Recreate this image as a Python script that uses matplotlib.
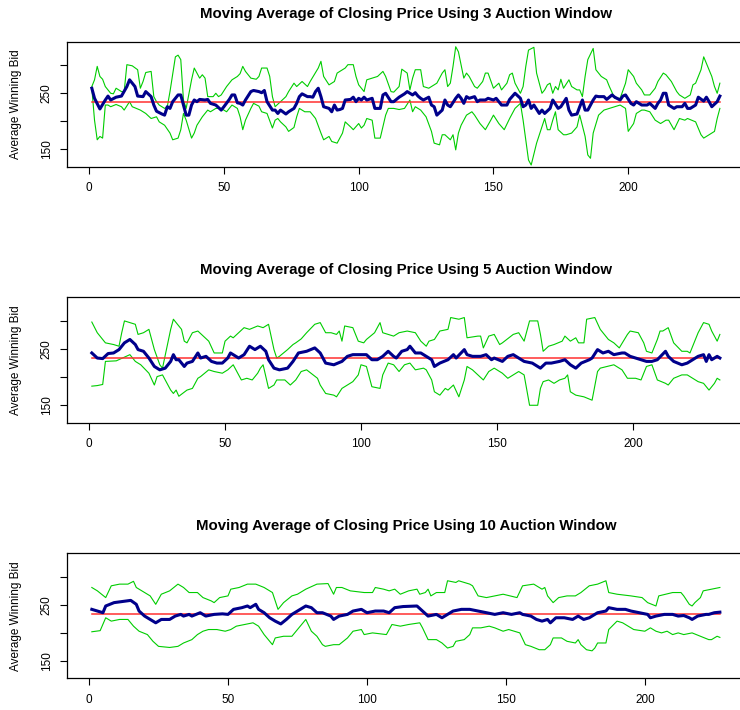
import numpy as np
import matplotlib
matplotlib.use("Agg")
import matplotlib.pyplot as plt

plt.rcParams["font.family"] = ["Liberation Sans", "DejaVu Sans"]

windows = [3, 5, 10]
n_points = [234, 232, 227]
overall_mean = 234.5

# 3 auction window: moving average and its upper / lower bands
ma3_x = [1, 2, 4, 6, 7, 8, 10, 12, 14, 15, 17, 18, 20, 21, 23, 24, 25, 27, 28, 29, 30, 31, 33, 34, 35, 36, 37, 38, 39, 40, 41, 43, 44, 45, 47, 49, 50, 52, 53, 54, 55, 56, 57, 58, 60, 61, 63, 64, 65, 66, 68, 69, 70, 71, 73, 74, 76, 77, 78, 79, 81, 82, 83, 84, 85, 86, 87, 89, 90, 91, 92, 93, 94, 95, 97, 98, 99, 100, 101, 102, 103, 105, 106, 108, 109, 110, 112, 113, 115, 117, 118, 120, 121, 122, 123, 124, 126, 127, 128, 129, 131, 132, 133, 134, 136, 137, 138, 139, 140, 141, 143, 144, 145, 147, 148, 150, 151, 152, 153, 155, 156, 158, 160, 161, 162, 163, 164, 165, 167, 168, 169, 171, 172, 174, 175, 177, 178, 179, 181, 182, 183, 184, 185, 187, 188, 189, 191, 192, 194, 195, 197, 198, 199, 201, 202, 203, 205, 207, 208, 210, 211, 212, 213, 214, 215, 217, 218, 220, 221, 222, 223, 225, 226, 228, 229, 230, 231, 233, 234]
ma3_y = [259, 241, 222, 238, 245, 238, 243, 245, 262, 274, 262, 245, 244, 253, 244, 229, 218, 213, 211, 226, 223, 235, 247, 247, 229, 211, 211, 229, 238, 235, 239, 238, 239, 232, 229, 220, 226, 239, 247, 247, 233, 232, 229, 238, 253, 255, 253, 251, 255, 235, 220, 220, 214, 220, 213, 217, 223, 232, 244, 249, 244, 244, 243, 253, 259, 244, 226, 223, 217, 229, 220, 221, 223, 238, 239, 243, 235, 241, 238, 243, 238, 241, 223, 223, 247, 250, 235, 235, 243, 249, 253, 247, 251, 245, 241, 238, 243, 229, 226, 211, 220, 238, 229, 226, 241, 247, 241, 232, 244, 241, 244, 235, 238, 238, 241, 238, 241, 235, 229, 229, 239, 250, 241, 226, 229, 238, 223, 229, 214, 220, 214, 223, 238, 223, 226, 241, 220, 211, 213, 226, 238, 220, 220, 238, 245, 244, 244, 239, 247, 243, 238, 245, 247, 232, 229, 235, 229, 229, 232, 223, 232, 238, 250, 250, 229, 223, 226, 226, 232, 223, 223, 229, 243, 236, 243, 235, 226, 235, 245]
up3_x = [1, 2, 3, 4, 5, 6, 8, 9, 10, 12, 13, 14, 16, 18, 19, 20, 21, 23, 24, 25, 26, 28, 29, 30, 32, 33, 34, 35, 36, 38, 39, 40, 41, 42, 43, 44, 46, 47, 48, 49, 51, 53, 55, 56, 57, 58, 60, 62, 63, 64, 66, 67, 68, 69, 71, 73, 74, 76, 77, 79, 81, 82, 85, 86, 87, 89, 90, 91, 92, 94, 95, 96, 98, 99, 100, 102, 103, 105, 107, 109, 110, 112, 113, 115, 116, 118, 119, 120, 121, 123, 124, 126, 127, 129, 131, 132, 133, 134, 135, 136, 137, 139, 140, 141, 143, 144, 146, 147, 148, 150, 152, 153, 155, 156, 157, 158, 160, 161, 162, 163, 165, 166, 168, 169, 170, 171, 172, 173, 174, 175, 176, 178, 179, 181, 182, 183, 184, 185, 187, 188, 190, 192, 193, 195, 197, 199, 200, 202, 203, 205, 206, 208, 210, 211, 213, 214, 216, 218, 219, 221, 223, 224, 225, 227, 228, 230, 231, 232, 233, 234]
up3_y = [262, 274, 298, 280, 275, 262, 250, 249, 259, 253, 253, 301, 299, 292, 259, 271, 287, 289, 244, 235, 229, 223, 226, 253, 315, 318, 310, 238, 223, 274, 295, 286, 277, 283, 277, 244, 244, 250, 244, 247, 262, 274, 280, 285, 298, 289, 277, 275, 280, 295, 295, 280, 244, 226, 235, 244, 253, 268, 262, 271, 262, 271, 295, 307, 280, 265, 268, 271, 286, 292, 295, 301, 301, 280, 265, 253, 274, 277, 280, 289, 280, 253, 252, 262, 293, 286, 256, 277, 292, 292, 262, 259, 262, 268, 286, 292, 262, 268, 298, 333, 324, 277, 286, 280, 262, 259, 271, 286, 286, 259, 268, 256, 268, 283, 286, 268, 250, 262, 298, 327, 332, 286, 250, 256, 265, 268, 250, 262, 256, 275, 259, 274, 262, 256, 256, 244, 280, 310, 330, 292, 280, 274, 262, 241, 241, 268, 292, 280, 268, 256, 247, 247, 259, 271, 286, 283, 271, 253, 247, 241, 247, 265, 268, 292, 315, 292, 280, 262, 250, 268]
lo3_x = [1, 2, 3, 4, 5, 6, 7, 8, 10, 12, 13, 15, 16, 19, 21, 23, 25, 26, 28, 30, 31, 33, 34, 35, 36, 38, 39, 40, 42, 44, 45, 47, 49, 51, 53, 55, 56, 57, 58, 60, 61, 63, 64, 66, 68, 69, 70, 71, 73, 74, 76, 77, 78, 80, 82, 84, 86, 87, 89, 90, 92, 93, 94, 95, 97, 98, 100, 101, 102, 103, 105, 106, 108, 110, 111, 113, 115, 117, 119, 120, 121, 123, 125, 127, 128, 130, 131, 132, 134, 135, 136, 137, 138, 140, 142, 143, 145, 147, 149, 150, 152, 154, 156, 158, 160, 161, 162, 163, 164, 166, 168, 169, 170, 171, 172, 173, 174, 176, 177, 179, 181, 182, 184, 185, 186, 187, 189, 191, 193, 195, 197, 199, 200, 202, 203, 205, 206, 208, 210, 212, 214, 215, 217, 219, 221, 222, 225, 227, 228, 230, 232, 233, 234]
lo3_y = [259, 202, 167, 173, 170, 229, 229, 226, 230, 226, 220, 235, 226, 220, 214, 205, 208, 199, 193, 179, 167, 170, 185, 214, 202, 170, 179, 193, 208, 220, 217, 223, 223, 217, 229, 223, 208, 185, 202, 223, 232, 227, 217, 214, 188, 202, 205, 199, 190, 182, 189, 208, 223, 217, 217, 205, 179, 167, 173, 164, 161, 170, 179, 199, 190, 185, 196, 188, 193, 205, 202, 170, 170, 211, 223, 223, 221, 223, 238, 217, 226, 220, 208, 182, 161, 158, 176, 176, 167, 176, 149, 179, 193, 211, 217, 211, 196, 185, 202, 211, 196, 185, 205, 223, 232, 202, 167, 131, 122, 161, 190, 205, 185, 185, 202, 217, 185, 176, 176, 179, 190, 211, 173, 140, 134, 179, 211, 220, 223, 226, 229, 223, 182, 196, 214, 220, 220, 217, 202, 196, 202, 202, 185, 205, 202, 205, 199, 176, 170, 176, 182, 205, 223]

# 5 auction window
ma5_x = [1, 3, 5, 7, 9, 11, 13, 15, 17, 18, 20, 22, 24, 26, 28, 30, 31, 32, 33, 35, 36, 38, 40, 41, 43, 45, 47, 49, 51, 52, 55, 57, 59, 61, 63, 65, 66, 68, 70, 73, 75, 77, 80, 83, 85, 87, 90, 93, 95, 97, 99, 102, 104, 106, 108, 110, 112, 113, 115, 117, 118, 120, 122, 124, 126, 127, 129, 132, 134, 135, 138, 139, 141, 144, 146, 148, 149, 152, 154, 156, 159, 160, 163, 166, 168, 170, 173, 175, 177, 179, 181, 184, 185, 187, 189, 191, 193, 196, 197, 199, 201, 203, 205, 207, 209, 212, 213, 215, 218, 220, 223, 224, 226, 227, 228, 229, 231, 232]
ma5_y = [243, 234, 233, 242, 243, 249, 261, 267, 258, 249, 246, 234, 219, 213, 216, 228, 240, 231, 231, 219, 225, 228, 243, 234, 237, 228, 225, 225, 234, 243, 234, 240, 255, 249, 255, 246, 231, 216, 213, 216, 228, 243, 246, 252, 243, 225, 222, 228, 237, 240, 240, 240, 231, 231, 237, 246, 237, 234, 246, 249, 255, 243, 243, 237, 231, 219, 225, 231, 240, 234, 249, 240, 237, 237, 240, 231, 234, 228, 237, 240, 231, 228, 225, 216, 225, 225, 228, 231, 222, 216, 225, 231, 234, 249, 243, 246, 240, 243, 243, 237, 234, 231, 228, 228, 231, 246, 237, 228, 222, 225, 234, 237, 240, 228, 240, 231, 237, 234]
up5_x = [1, 3, 6, 9, 11, 12, 13, 15, 17, 18, 20, 22, 24, 26, 27, 30, 31, 33, 34, 35, 36, 38, 40, 42, 44, 46, 49, 50, 52, 53, 55, 57, 59, 62, 64, 66, 68, 69, 70, 73, 75, 76, 78, 80, 83, 85, 87, 89, 91, 92, 93, 94, 97, 99, 101, 102, 105, 107, 108, 110, 112, 114, 117, 120, 122, 124, 125, 127, 129, 132, 133, 136, 138, 139, 143, 144, 145, 147, 149, 151, 152, 156, 158, 160, 162, 165, 166, 167, 169, 171, 174, 175, 177, 179, 180, 182, 183, 186, 188, 190, 191, 193, 195, 198, 199, 202, 204, 205, 207, 209, 210, 211, 213, 215, 218, 220, 221, 222, 224, 226, 228, 229, 231, 232]
up5_y = [298, 279, 261, 258, 255, 279, 300, 297, 294, 276, 279, 285, 249, 222, 216, 285, 303, 291, 285, 264, 261, 279, 282, 273, 264, 243, 243, 264, 273, 270, 279, 288, 285, 291, 288, 294, 249, 234, 237, 249, 258, 261, 268, 279, 294, 297, 279, 279, 276, 282, 264, 291, 288, 264, 261, 267, 279, 297, 279, 276, 273, 279, 282, 279, 264, 255, 264, 267, 282, 285, 306, 303, 306, 270, 273, 273, 252, 273, 276, 258, 261, 276, 279, 264, 300, 300, 276, 246, 255, 258, 264, 273, 264, 270, 261, 261, 303, 306, 285, 273, 267, 261, 252, 276, 282, 279, 261, 246, 243, 267, 282, 282, 288, 261, 246, 246, 243, 255, 279, 297, 294, 282, 264, 276]
lo5_x = [1, 3, 5, 6, 10, 15, 17, 19, 22, 24, 25, 27, 30, 31, 32, 33, 36, 38, 40, 41, 44, 46, 49, 51, 53, 54, 56, 58, 60, 62, 63, 64, 66, 68, 69, 72, 74, 76, 78, 80, 84, 85, 87, 90, 91, 93, 97, 99, 100, 102, 104, 107, 108, 110, 112, 114, 116, 118, 120, 123, 124, 126, 127, 129, 131, 132, 134, 136, 138, 139, 141, 143, 145, 147, 149, 152, 154, 156, 158, 160, 161, 162, 165, 166, 167, 169, 171, 173, 175, 176, 177, 179, 182, 185, 187, 188, 193, 196, 198, 201, 203, 205, 207, 209, 212, 213, 215, 218, 220, 222, 224, 226, 228, 230, 231, 232]
lo5_y = [184, 185, 187, 228, 229, 240, 228, 222, 207, 186, 201, 204, 177, 171, 177, 166, 177, 180, 198, 201, 213, 210, 207, 213, 222, 213, 195, 198, 195, 207, 216, 222, 180, 186, 195, 195, 186, 195, 210, 213, 198, 186, 171, 168, 165, 180, 192, 204, 222, 219, 183, 180, 204, 225, 222, 210, 222, 225, 213, 216, 213, 195, 174, 168, 180, 177, 186, 165, 195, 219, 213, 204, 195, 210, 216, 207, 198, 204, 210, 204, 177, 150, 150, 180, 192, 195, 189, 195, 198, 204, 174, 168, 165, 159, 210, 216, 222, 213, 198, 198, 195, 219, 222, 195, 189, 186, 198, 204, 204, 198, 192, 189, 177, 189, 198, 195]

# 10 auction window
ma10_x = [1, 3, 5, 6, 9, 12, 15, 17, 18, 20, 22, 24, 26, 29, 31, 33, 34, 36, 37, 40, 42, 45, 48, 50, 52, 55, 57, 58, 60, 61, 63, 65, 67, 69, 71, 73, 76, 78, 80, 82, 84, 87, 88, 90, 93, 95, 98, 100, 103, 106, 108, 110, 113, 118, 120, 122, 125, 127, 129, 131, 134, 137, 140, 143, 146, 149, 152, 155, 156, 159, 161, 163, 165, 166, 168, 171, 174, 176, 178, 180, 183, 186, 187, 190, 193, 195, 198, 201, 202, 204, 207, 210, 212, 214, 216, 217, 219, 222, 223, 225, 227]
ma10_y = [242, 239, 236, 248, 254, 256, 258, 251, 239, 230, 224, 218, 224, 224, 230, 233, 230, 233, 230, 236, 230, 233, 234, 233, 242, 245, 248, 245, 251, 242, 236, 227, 221, 216, 224, 233, 242, 248, 245, 236, 236, 230, 224, 230, 233, 239, 242, 236, 239, 239, 236, 245, 247, 248, 239, 230, 233, 227, 233, 239, 242, 242, 239, 236, 233, 236, 233, 236, 233, 230, 224, 221, 224, 218, 227, 227, 224, 230, 224, 227, 236, 239, 245, 242, 242, 239, 236, 233, 227, 230, 233, 233, 230, 231, 227, 224, 230, 233, 233, 236, 237]
up10_x = [1, 3, 6, 8, 11, 14, 16, 17, 20, 22, 24, 26, 29, 32, 34, 36, 39, 41, 44, 45, 47, 50, 51, 54, 57, 60, 63, 66, 68, 70, 73, 75, 78, 82, 86, 88, 89, 91, 94, 99, 102, 103, 106, 108, 110, 112, 115, 118, 119, 121, 122, 123, 125, 128, 129, 132, 133, 137, 138, 140, 143, 146, 149, 154, 156, 160, 163, 164, 165, 167, 169, 172, 175, 177, 180, 183, 186, 187, 190, 195, 199, 201, 204, 205, 210, 213, 214, 216, 217, 218, 220, 221, 224, 227]
up10_y = [281, 275, 263, 284, 287, 287, 292, 281, 272, 266, 251, 269, 275, 287, 281, 272, 272, 263, 257, 254, 263, 266, 278, 281, 287, 287, 281, 272, 242, 254, 266, 269, 278, 287, 288, 269, 281, 281, 275, 272, 272, 281, 278, 275, 278, 269, 275, 278, 269, 272, 278, 266, 272, 272, 293, 290, 293, 287, 284, 266, 263, 266, 269, 263, 284, 287, 278, 281, 266, 254, 263, 266, 266, 272, 284, 287, 293, 272, 269, 266, 263, 254, 248, 266, 272, 272, 266, 251, 248, 254, 263, 275, 278, 281]
lo10_x = [1, 4, 6, 8, 11, 14, 16, 18, 21, 23, 25, 29, 32, 34, 37, 39, 41, 43, 46, 49, 51, 53, 56, 59, 61, 63, 65, 66, 67, 70, 73, 75, 78, 80, 82, 84, 85, 88, 90, 93, 95, 98, 99, 102, 107, 109, 112, 115, 119, 120, 122, 125, 127, 129, 131, 132, 135, 137, 138, 141, 144, 146, 149, 151, 155, 157, 159, 162, 164, 166, 167, 170, 172, 175, 176, 177, 179, 181, 182, 183, 186, 187, 190, 192, 194, 196, 200, 202, 204, 206, 208, 210, 212, 214, 217, 220, 223, 224, 226, 227]
lo10_y = [202, 204, 227, 221, 224, 224, 212, 203, 197, 185, 176, 174, 176, 182, 188, 197, 203, 206, 206, 203, 206, 212, 215, 218, 212, 197, 185, 179, 191, 194, 194, 206, 224, 203, 194, 179, 176, 179, 179, 191, 203, 206, 197, 200, 197, 215, 212, 215, 218, 209, 188, 188, 182, 173, 176, 185, 188, 197, 209, 209, 212, 209, 203, 206, 200, 179, 176, 170, 170, 179, 191, 191, 185, 182, 188, 179, 170, 168, 173, 182, 182, 206, 221, 218, 212, 206, 203, 209, 203, 200, 203, 197, 200, 197, 200, 194, 188, 188, 194, 192]

panels = [
    (ma3_x, ma3_y, up3_x, up3_y, lo3_x, lo3_y),
    (ma5_x, ma5_y, up5_x, up5_y, lo5_x, lo5_y),
    (ma10_x, ma10_y, up10_x, up10_y, lo10_x, lo10_y),
]

fig = plt.figure(figsize=(7.4, 7.1), dpi=100)
fig.patch.set_facecolor("white")

# axes boxes in pixels (top, bottom); right edge runs past the figure
W, H = 740, 710
left_px, right_px = 66.7, 745
boxes = [(41.7, 166.7), (297.3, 422.7), (553.3, 678.3)]

for k, (win, n, data, (top, bot)) in enumerate(zip(windows, n_points, panels, boxes)):
    mx, my, ux, uy, lx, ly = data
    ax = fig.add_axes([left_px / W, 1 - bot / H, (right_px - left_px) / W, (bot - top) / H])

    ax.plot(ux, uy, color="#00cd00", lw=0.8)
    ax.plot(lx, ly, color="#00cd00", lw=0.8)
    ax.plot([1, n], [overall_mean, overall_mean], color="#ff3030", lw=1.1)
    ax.plot(mx, my, color="#00008b", lw=2.2)

    # R style 4% padding on both axes
    pad = 0.04 * (n - 1)
    ax.set_xlim(1 - pad, n + pad)
    ax.set_ylim(119, 342)

    ax.set_xticks([0, 50, 100, 150, 200])
    ax.set_yticks([150, 200, 250, 300])
    ax.set_yticklabels(["150", "", "250", ""], rotation=90, va="center")
    ax.tick_params(direction="out", length=5, width=0.8, labelsize=8.5, pad=6)
    ax.tick_params(axis="y", pad=5)
    for s in ax.spines.values():
        s.set_linewidth(0.9)

    ax.set_ylabel("Average Winning Bid", fontsize=8.5)
    ax.yaxis.set_label_coords(-0.066, 0.5)
    ax.set_title(f"Moving Average of Closing Price Using {win} Auction Window",
                 fontsize=10.8, fontweight="bold", pad=17)

fig.savefig("out.png", dpi=100, facecolor="white")
